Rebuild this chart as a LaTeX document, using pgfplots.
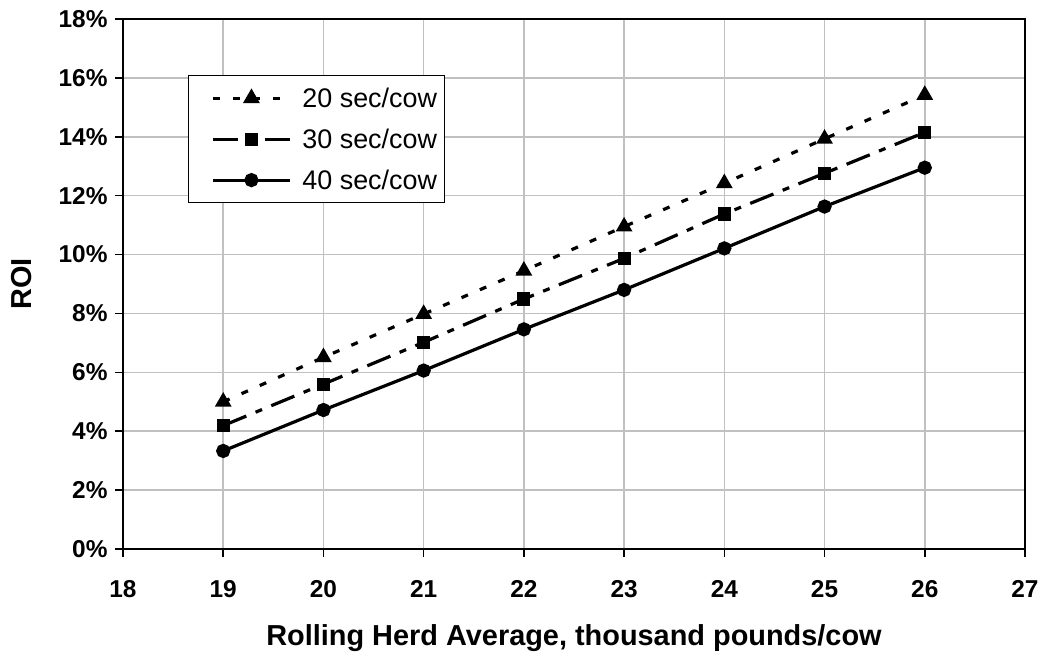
\documentclass[border=0pt]{standalone}
\usepackage{pgfplots}
\pgfplotsset{compat=1.18}
\usepackage{fontspec}
\setmainfont{Liberation Sans}

\definecolor{gridgray}{RGB}{192,192,192}

\begin{document}
\begin{tikzpicture}
\begin{axis}[
  scale only axis,
  width=902bp, height=530bp,
  xmin=18, xmax=27,
  ymin=0, ymax=18,
  xtick={18,19,...,27},
  xticklabels={18,19,20,21,22,23,24,25,26,27},
  ytick={0,2,...,18},
  yticklabels={0\%,2\%,4\%,6\%,8\%,10\%,12\%,14\%,16\%,18\%},
  tick align=outside,
  tick pos=left,
  major tick length=8bp,
  every tick/.style={black, line width=1.5bp},
  axis line style={line width=2.5bp},
  grid=major,
  grid style={gridgray, line width=1.5bp},
  ticklabel style={font=\bfseries\fontsize{24.5}{24.5}\selectfont},
  xticklabel style={yshift=-20bp},
  yticklabel style={xshift=-4bp},
  xlabel={Rolling Herd Average, thousand pounds/cow},
  ylabel={ROI},
  label style={font=\bfseries\fontsize{29}{29}\selectfont},
  xlabel style={at={(axis description cs:0.5,0)}, anchor=center, yshift=-89bp},
  ylabel style={at={(axis description cs:0,0.5)}, anchor=center, yshift=101bp},
  legend style={
    at={(0.072,0.894)}, anchor=north west,
    draw=black, line width=1bp, fill=white,
    font=\fontsize{27}{27}\selectfont,
    inner xsep=6bp, inner ysep=10bp,
    row sep=16bp,
    cells={anchor=west},
  },
  legend image code/.code={
    \path[draw=none, fill=none] (-19bp,-1bp) rectangle (87bp,1bp);
    \draw[mark repeat=2, mark phase=2] plot coordinates {(0bp,0bp) (38bp,0bp) (77bp,0bp)};
  },
]
\addplot[black, line width=3.2bp, dash pattern=on 7bp off 13bp,
  mark=triangle*, mark size=6.5bp, mark options={solid}]
  coordinates {(19,5.0) (20,6.51) (21,7.98) (22,9.45) (23,10.95) (24,12.42) (25,13.93) (26,15.42)};
\addlegendentry{20 sec/cow}
\addplot[black, line width=3.2bp, dash pattern=on 25bp off 10bp on 7bp off 10bp,
  mark=square*, mark size=5bp, mark options={solid}]
  coordinates {(19,4.19) (20,5.6) (21,7.02) (22,8.49) (23,9.87) (24,11.38) (25,12.76) (26,14.15)};
\addlegendentry{30 sec/cow}
\addplot[black, line width=3.2bp, solid,
  mark=*, mark size=5.5bp]
  coordinates {(19,3.33) (20,4.72) (21,6.06) (22,7.46) (23,8.8) (24,10.21) (25,11.63) (26,12.95)};
\addlegendentry{40 sec/cow}
\end{axis}
\path (current axis.south west) ++(-123bp,-107bp) rectangle ++(1044bp,656bp);
\end{tikzpicture}
\end{document}
